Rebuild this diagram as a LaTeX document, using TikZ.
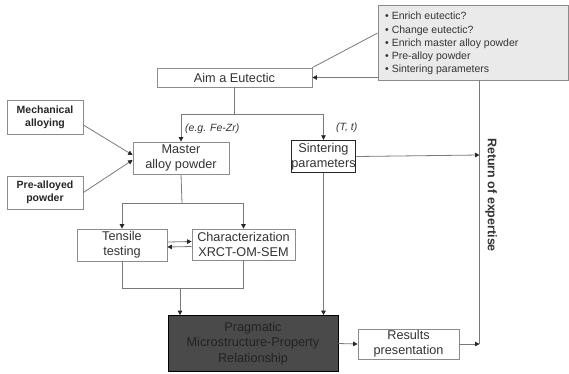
\documentclass[tikz,border=0pt]{standalone}
\usepackage{fontspec}
\setmainfont{Liberation Sans}
\usetikzlibrary{arrows.meta,calc}
\definecolor{ln}{HTML}{7A7A7A}
\definecolor{bx}{HTML}{8C8C8C}
\definecolor{tx}{HTML}{333333}
\definecolor{gfill}{HTML}{EAEAEA}
\definecolor{dfill}{HTML}{4A4A4A}
\definecolor{dtext}{HTML}{222222}
\begin{document}
\begin{tikzpicture}[x=1pt,y=-1pt,
  boxn/.style={draw=bx,line width=0.8pt,fill=white,inner sep=0pt,align=center,text=tx,
    font=\fontsize{12.7}{15}\selectfont},
  boldbox/.style={boxn,font=\bfseries\fontsize{10.5}{13}\selectfont,text=black!85},
  conn/.style={draw=ln,line width=0.8pt},
  arr/.style={conn,-{Triangle[length=4.5pt,width=4.5pt,color=black!85]}},
  lab/.style={font=\itshape\fontsize{10.5}{12}\selectfont,text=tx,inner sep=0pt}]
\useasboundingbox (0,0) rectangle (569,373);
% nodes
\node[boxn,minimum width=155,minimum height=19] (aim) at (234.5,77.5) {Aim a Eutectic};
\node[draw=bx,line width=0.8pt,fill=gfill,minimum width=190,minimum height=75,inner sep=0pt] (gray) at (473,42.5) {};
\node[anchor=west,align=left,inner sep=0pt,text=tx,font=\fontsize{10.5}{13.2}\selectfont] (glist) at (385,43.5)
  {• Enrich eutectic?\\• Change eutectic?\\• Enrich master alloy powder\\• Pre-alloy powder\\• Sintering parameters};
\node[boldbox,minimum width=76,minimum height=34] (mech) at (45,117) {Mechanical\\alloying};
\node[boldbox,minimum width=76,minimum height=33] (pre) at (45,192.5) {Pre-alloyed\\powder};
\node[boxn,minimum width=96,minimum height=32] (master) at (181,158) {Master\\alloy powder};
\node[boxn,draw=black!85,line width=1.4pt,minimum width=64,minimum height=32] (sint) at (323.5,156.5) {Sintering\\parameters};
\node[boxn,minimum width=90,minimum height=32] (tens) at (122,245) {Tensile\\testing};
\node[boxn,minimum width=103,minimum height=31] (char) at (243.5,244.5) {Characterization\\XRCT-OM-SEM};
\node[draw=black,line width=0.8pt,fill=dfill,minimum width=170,minimum height=56,inner sep=0pt,align=center,
  text=dtext,font={\fontsize{12.7}{15.5}\selectfont}] (prag) at (253,343.5) {Pragmatic\\Microstructure-Property\\Relationship};
\node[boxn,minimum width=101,minimum height=30] (res) at (408.5,344) {Results\\presentation};
\node[rotate=-90,inner sep=0pt,font=\bfseries\fontsize{12.5}{14}\selectfont,text=black!80] (ret) at (491,195) {Return of expertise};
\node[lab,anchor=west] (eg) at (185,129) {(e.g. Fe-Zr)};
\node[lab,anchor=west] (tt) at (336,128) {(T, t)};
% coordinates
\coordinate (j1) at (234.5,114);
\coordinate (j2) at (182,203);
\coordinate (j3) at (180,288);
\coordinate (rb) at (479.5,344);
\coordinate (rs) at (479.5,155);
% connectors
\draw[conn] ([yshift=9.5pt]gray.west) -- (aim.north east);
\draw[arr] (gray.west |- aim.east) -- (aim.east);
\draw[conn] (aim.south) -- (j1);
\draw[arr] (j1) -| (master.north);
\draw[arr] (j1) -| (sint.north);
\draw[arr] ([yshift=-8pt]mech.east) -- ([yshift=3pt]master.west);
\draw[arr] (pre.east) -- ([yshift=-2pt]master.west);
\draw[conn] (master.south) -- (j2);
\draw[arr] (j2) -| (tens.north);
\draw[arr] (j2) -| (char.north);
\draw[arr] ([yshift=3pt]tens.east) -- ([yshift=3pt]char.west);
\draw[arr] ([yshift=-2pt]char.west) -- ([yshift=-2pt]tens.east);
\draw[conn] (tens.south) |- (char.south |- j3) -- (char.south);
\draw[arr] (j3) -- (j3 |- prag.north);
\draw[arr] (sint.south) -- (sint.south |- prag.north);
\draw[arr] (prag.east) -- (res.west);
\draw[arr] (sint.east) -- (rs);
\draw[arr] (res.east) -- (rb);
\draw[conn] (rb) -- (rb |- gray.south);
\end{tikzpicture}
\end{document}
